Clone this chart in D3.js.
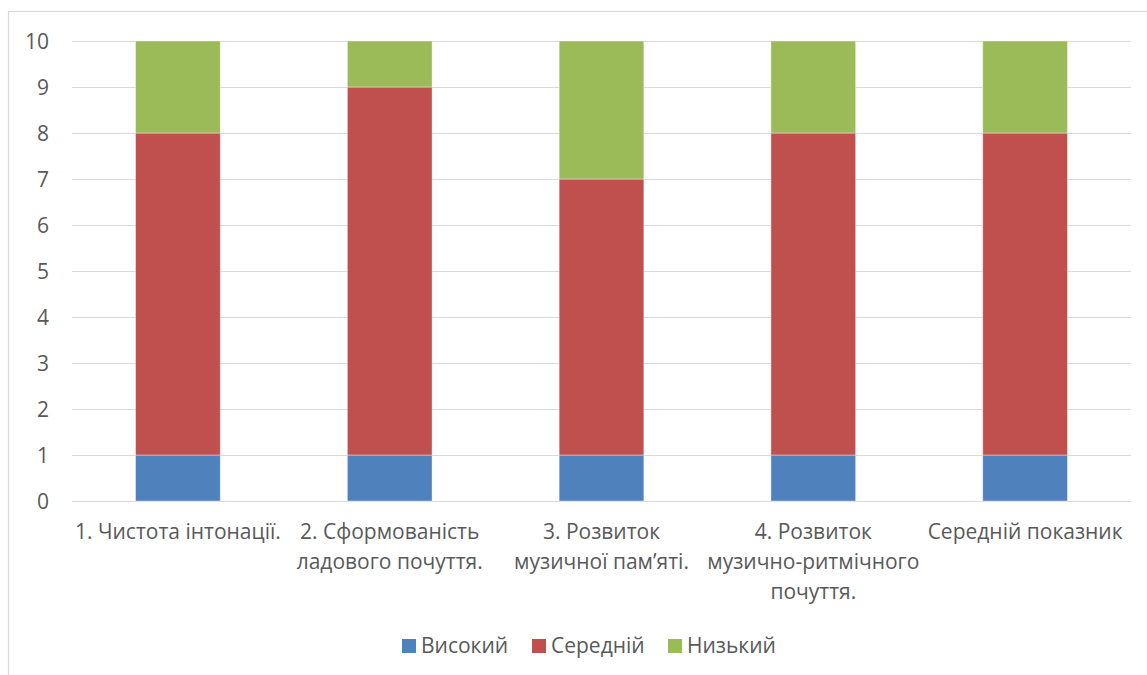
<!DOCTYPE html>
<html>
<head>
<meta charset="utf-8">
<script src="https://cdn.jsdelivr.net/npm/d3@7"></script>
<style>
  html, body { margin: 0; padding: 0; background: #fff; }
  svg { display: block; }
  text { font-family: "Open Sans", "Noto Sans", sans-serif; fill: #595959; }
</style>
</head>
<body>
<svg id="chart" width="1147" height="675"></svg>
<script>
// Categories (x-axis labels, split into lines)
const categories = [
  ["1. Чистота інтонації."],
  ["2. Сформованість", "ладового почуття."],
  ["3. Розвиток", "музичної пам’яті."],
  ["4. Розвиток", "музично-ритмічного", "почуття."],
  ["Середній показник"]
];
const seriesNames = ["Високий", "Середній", "Низький"];
const seriesColors = ["#4F81BD", "#C0504D", "#9BBB59"];
const high   = [1, 1, 1, 1, 1];
const middle = [7, 8, 6, 7, 7];
const low    = [2, 1, 3, 2, 2];
const yTicks = [0, 1, 2, 3, 4, 5, 6, 7, 8, 9, 10];

const svg = d3.select("#chart");
const W = 1147, H = 675;
const FONT = "21px";

// Outer chart frame
svg.append("rect")
  .attr("x", 8.5).attr("y", 11.5)
  .attr("width", W + 20).attr("height", H + 20)
  .attr("fill", "none").attr("stroke", "#d9d9d9").attr("stroke-width", 1.2);

const plot = { left: 72, right: 1131, top: 41, bottom: 501 };

const keys = categories.map((c, i) => i);
const x = d3.scaleBand()
  .domain(keys)
  .range([plot.left, plot.right])
  .paddingInner(0.6).paddingOuter(0.3);

const y = d3.scaleLinear().domain([0, 10]).range([plot.bottom, plot.top]);

// Gridlines
svg.append("g").selectAll("line")
  .data(yTicks)
  .join("line")
  .attr("x1", plot.left).attr("x2", plot.right)
  .attr("y1", d => Math.round(y(d)) + 0.5).attr("y2", d => Math.round(y(d)) + 0.5)
  .attr("stroke", "#d9d9d9").attr("stroke-width", 1.2);

// Y axis labels
const yAxis = d3.axisLeft(y).tickValues(yTicks).tickSize(0).tickPadding(0).tickFormat(d3.format("d"));
const yG = svg.append("g")
  .attr("transform", `translate(49,0)`)
  .call(yAxis)
  .attr("font-size", null)
  .attr("font-family", null);
yG.select(".domain").remove();
yG.selectAll("text")
  .style("font-size", FONT)
  .style("fill", "#595959")
  .attr("dy", "0.35em");

// Stacked bars
const rows = keys.map(i => ({ key: i, "Високий": high[i], "Середній": middle[i], "Низький": low[i] }));
const stacked = d3.stack().keys(seriesNames)(rows);

svg.append("g").selectAll("g")
  .data(stacked)
  .join("g")
  .attr("fill", (d, i) => seriesColors[i])
  .selectAll("rect")
  .data(d => d)
  .join("rect")
  .attr("x", d => x(d.data.key))
  .attr("width", x.bandwidth())
  .attr("y", d => y(d[1]))
  .attr("height", d => y(d[0]) - y(d[1]))
  .attr("stroke", "#ffffff").attr("stroke-opacity", 0.5).attr("stroke-width", 0.8);

// X axis labels
const xLabels = svg.append("g");
categories.forEach((lines, i) => {
  const cx = x(i) + x.bandwidth() / 2;
  const t = xLabels.append("text")
    .attr("x", cx).attr("y", 539)
    .attr("text-anchor", "middle")
    .style("font-size", FONT);
  lines.forEach((ln, j) => {
    t.append("tspan").attr("x", cx).attr("dy", j === 0 ? 0 : 30).text(ln);
  });
});

// Legend
const legendItems = [
  { name: seriesNames[0], color: seriesColors[0], x: 402 },
  { name: seriesNames[1], color: seriesColors[1], x: 532 },
  { name: seriesNames[2], color: seriesColors[2], x: 668 }
];
const legend = svg.append("g");
legendItems.forEach(it => {
  legend.append("rect")
    .attr("x", it.x).attr("y", 639).attr("width", 14).attr("height", 14)
    .attr("fill", it.color);
  legend.append("text")
    .attr("x", it.x + 19).attr("y", 653)
    .style("font-size", FONT)
    .text(it.name);
});
</script>
</body>
</html>
